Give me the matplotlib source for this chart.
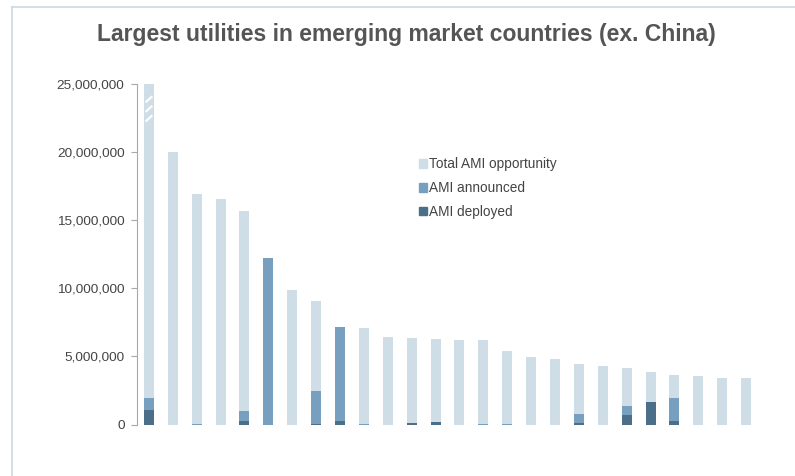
import matplotlib.pyplot as plt
from matplotlib.ticker import FuncFormatter
from matplotlib.lines import Line2D
from matplotlib.patches import Patch

plt.rcParams['font.family'] = ['Liberation Sans', 'DejaVu Sans']

# values in millions of meters
total = [25.0, 20.0, 16.95, 16.55, 15.7, 12.25, 9.88, 9.09, 7.14, 7.06, 6.45, 6.37, 6.28,
         6.2, 6.2, 5.37, 4.93, 4.83, 4.42, 4.32, 4.15, 3.83, 3.66, 3.56, 3.39, 3.39]
announced = [1.98, 0, 0.05, 0, 0.98, 12.25, 0, 2.46, 7.14, 0.05, 0, 0.1, 0.18,
             0, 0.05, 0.05, 0, 0, 0.77, 0, 1.36, 1.63, 1.95, 0, 0, 0]
deployed = [1.05, 0, 0, 0, 0.24, 0, 0, 0.05, 0.26, 0, 0, 0.08, 0.18,
            0, 0, 0, 0, 0, 0.1, 0, 0.67, 1.63, 0.28, 0, 0, 0]
yticks = [0, 5e6, 10e6, 15e6, 20e6, 25e6]

c_total = '#cfdde6'
c_ann = '#779fbf'
c_dep = '#4c6f89'

fig = plt.figure(figsize=(7.95, 4.76), dpi=100)
W, H = 795, 476
ax = fig.add_axes([137 / W, 1 - 424.5 / H, (758 - 137) / W, (424.5 - 84) / H])

x = range(len(total))
w = 0.42
ax.bar(x, [v * 1e6 for v in total], width=w, color=c_total, zorder=2)
ax.bar(x, [v * 1e6 for v in announced], width=w, color=c_ann, zorder=3)
ax.bar(x, [v * 1e6 for v in deployed], width=w, color=c_dep, zorder=4)

# axis-break slashes on the first bar
for y0 in [23.65e6, 22.95e6, 22.25e6]:
    ax.plot([-0.14, 0.14], [y0, y0 + 0.45e6], color='white', lw=1.6, zorder=5,
            solid_capstyle='butt')

ax.set_xlim(-0.5, 25.5)
ax.set_ylim(0, 25e6)
ax.set_yticks(yticks)
ax.yaxis.set_major_formatter(FuncFormatter(lambda v, p: '{:,}'.format(int(v))))
ax.set_xticks([])
for s in ['top', 'right', 'bottom']:
    ax.spines[s].set_visible(False)
ax.spines['left'].set_color('#a8a8a8')
ax.tick_params(axis='y', length=4, color='#a8a8a8', labelsize=9.7, labelcolor='#444444', pad=5)

handles = [Patch(color=c_total), Patch(color=c_ann), Patch(color=c_dep)]
labels = ['Total AMI opportunity', 'AMI announced', 'AMI deployed']
ax.legend(handles, labels, loc='upper left', bbox_to_anchor=(412 / W, 1 - 150.5 / H),
          bbox_transform=fig.transFigure, frameon=False, fontsize=9.8,
          handlelength=0.6, handleheight=0.6, handletextpad=0.15, labelspacing=0.72,
          labelcolor='#444444', borderpad=0)

fig.text(406 / W, 1 - 35 / H, 'Largest utilities in emerging market countries (ex. China)',
         ha='center', va='center', fontsize=16.5, fontweight='bold', color='#555555')

# partial frame around the chart
fig.add_artist(Line2D([12 / W, 1], [1 - 7 / H, 1 - 7 / H], color='#c9d9e5', lw=1.2))
fig.add_artist(Line2D([12 / W, 12 / W], [0, 1 - 7 / H], color='#c9d9e5', lw=1.2))

fig.savefig('out.png', dpi=100)
